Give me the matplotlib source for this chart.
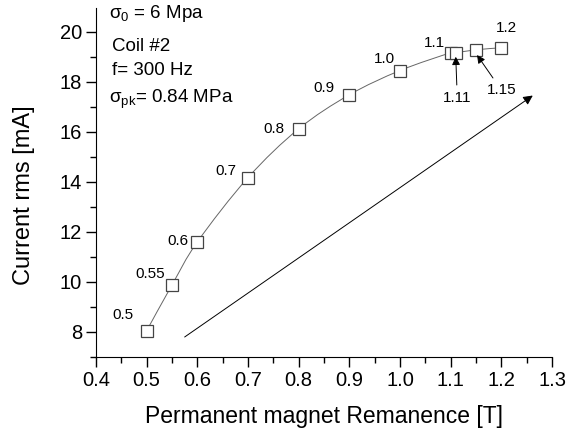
import numpy as np
import matplotlib.pyplot as plt
from matplotlib.path import Path
from matplotlib.patches import PathPatch
from matplotlib.ticker import MultipleLocator

plt.rcParams['font.family'] = ['Liberation Sans', 'DejaVu Sans']
plt.rcParams['mathtext.fontset'] = 'custom'
plt.rcParams['mathtext.rm'] = 'Liberation Sans'
plt.rcParams['mathtext.it'] = 'Liberation Sans'

# remanence (T) vs rms current (mA)
remanence = [0.5, 0.55, 0.6, 0.7, 0.8, 0.9, 1.0, 1.1, 1.11, 1.15, 1.2]
current = [8.05, 9.88, 11.6, 14.17, 16.12, 17.48, 18.45, 19.16, 19.16, 19.28, 19.36]
point_labels = ['0.5', '0.55', '0.6', '0.7', '0.8', '0.9', '1.0', '1.1', '', '', '1.2']

# direction arrow across the plot
trend_start = (0.575, 7.8)
trend_end = (1.262, 17.45)

fig = plt.figure(figsize=(5.66, 4.34), dpi=100)
ax = fig.add_axes([0.1696, 0.1774, 0.8057, 0.8042])

# smooth curve through the points (Catmull-Rom -> cubic Bezier)
xs = np.array(remanence)
ys = np.array(current)
verts = [(xs[0], ys[0])]
codes = [Path.MOVETO]
n = len(xs)
for i in range(n - 1):
    p0 = np.array([xs[max(i - 1, 0)], ys[max(i - 1, 0)]])
    p1 = np.array([xs[i], ys[i]])
    p2 = np.array([xs[i + 1], ys[i + 1]])
    p3 = np.array([xs[min(i + 2, n - 1)], ys[min(i + 2, n - 1)]])
    c1 = p1 + (p2 - p0) / 6
    c2 = p2 - (p3 - p1) / 6
    verts += [tuple(c1), tuple(c2), tuple(p2)]
    codes += [Path.CURVE4] * 3
ax.add_patch(PathPatch(Path(verts, codes), fill=False, color='#666666', lw=0.7))

ax.plot(remanence, current, ls='none', marker='s', ms=9, mfc='white',
        mec='#444444', mew=0.9, zorder=3)

offsets = {'0.5': (-17, 11), '0.55': (-16, 8), '0.6': (-14, 1), '0.7': (-16, 5),
           '0.8': (-18, 0), '0.9': (-18, 5), '1.0': (-11, 8), '1.1': (-12, 7),
           '1.2': (4, 14)}
for x, y, lab in zip(remanence, current, point_labels):
    if lab:
        ax.annotate(lab, (x, y), xytext=offsets[lab], textcoords='offset points',
                    ha='center', va='center', fontsize=11)

ax.annotate('1.11', xy=(1.11, 19.0), xytext=(1.113, 17.65), ha='center', va='top',
            fontsize=11,
            arrowprops=dict(arrowstyle='-|>', color='black', lw=0.7,
                            mutation_scale=12, shrinkA=2, shrinkB=0))
ax.annotate('1.15', xy=(1.152, 19.07), xytext=(1.2, 17.95), ha='center', va='top',
            fontsize=11,
            arrowprops=dict(arrowstyle='-|>', color='black', lw=0.7,
                            mutation_scale=12, shrinkA=2, shrinkB=0))
ax.annotate('', xy=trend_end, xytext=trend_start,
            arrowprops=dict(arrowstyle='-|>', color='black', lw=0.7,
                            mutation_scale=14, shrinkA=0, shrinkB=0))

ax.text(0.425, 20.72, r'$\mathrm{σ}_\mathrm{0}$ = 6 Mpa', fontsize=13.5, va='center')
ax.text(0.432, 19.42, 'Coil #2', fontsize=13.5, va='center')
ax.text(0.432, 18.47, 'f= 300 Hz', fontsize=13.5, va='center')
ax.text(0.425, 17.3, r'$\mathrm{σ}_\mathrm{pk}$= 0.84 MPa', fontsize=13.5, va='center')

ax.set_xlim(0.4, 1.3)
ax.set_ylim(7, 20.95)
ax.xaxis.set_minor_locator(MultipleLocator(0.05))
ax.yaxis.set_minor_locator(MultipleLocator(1))
ax.set_yticks([8, 10, 12, 14, 16, 18, 20])
ax.set_xticks(np.round(np.arange(0.4, 1.31, 0.1), 1))
ax.set_xticklabels([f'{v:.1f}' for v in np.arange(0.4, 1.31, 0.1)])

ax.spines['top'].set_visible(False)
ax.spines['right'].set_visible(False)
ax.tick_params(which='major', direction='out', length=7, width=1,
               labelsize=14.5, pad=3)
ax.tick_params(which='minor', direction='out', length=4, width=1)

ax.set_xlabel('Permanent magnet Remanence [T]', fontsize=16.5)
ax.set_ylabel('Current rms [mA]', fontsize=17)
ax.xaxis.set_label_coords(0.5, -0.138)
ax.yaxis.set_label_coords(-0.134, 0.465)

fig.savefig('out.png', dpi=100)
